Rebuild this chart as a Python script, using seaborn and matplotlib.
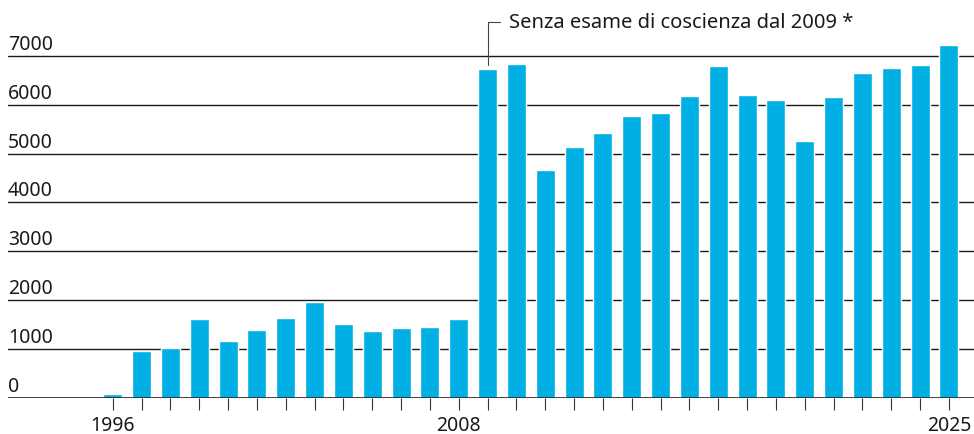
import matplotlib
matplotlib.use("Agg")
import matplotlib.pyplot as plt
import matplotlib.transforms as mtransforms
import seaborn as sns

# ========== DATA ==========
years = [str(y) for y in range(1996, 2026)]
values = [80, 960, 1020, 1615, 1165, 1390, 1635, 1965, 1515, 1370,
          1430, 1450, 1615, 6730, 6830, 4665, 5135, 5420, 5765, 5830,
          6175, 6790, 6195, 6095, 5255, 6155, 6645, 6750, 6810, 7220]
shown_years = ["1996", "2008", "2025"]
y_ticks = [0, 1000, 2000, 3000, 4000, 5000, 6000, 7000]
note_text = "Senza esame di coscienza dal 2009 *"
note_year = "2009"

BAR_COLOR = "#00afe4"
INK = "#1a1a1a"

sns.set_style("white")
plt.rcParams["font.family"] = ["Noto Sans", "DejaVu Sans"]

fig = plt.figure(figsize=(9.74, 4.35), dpi=100)
ax = fig.add_axes([8 / 974, 36 / 435, 966 / 974, 399 / 435])

sns.barplot(x=years, y=values, color=BAR_COLOR, saturation=1, width=0.66, ax=ax, zorder=2)

ax.set_xlim(-3.63, 29.87)
ax.set_ylim(0, 8160)
for s in ax.spines.values():
    s.set_visible(False)

# horizontal grid lines behind bars
ax.set_axisbelow(True)
ax.set_yticks(y_ticks)
ax.yaxis.grid(True, color=INK, linewidth=1.0)
ax.axhline(0, color=INK, linewidth=1.1, zorder=3)

# y labels sit left-aligned just above each grid line
ax.tick_params(axis="y", length=0, pad=0, labelsize=14, labelcolor=INK)
offset = mtransforms.ScaledTranslation(0, 7 / 100, fig.dpi_scale_trans)
for lab in ax.get_yticklabels():
    lab.set_horizontalalignment("left")
    lab.set_verticalalignment("baseline")
    lab.set_transform(lab.get_transform() + offset)

# x ticks: every year, label only a few
ax.set_xticks(range(len(years)))
ax.set_xticklabels([y if y in shown_years else "" for y in years])
ax.tick_params(axis="x", direction="out", length=8.5, width=0.8, color="#333333",
               pad=4, labelsize=14, labelcolor=INK, bottom=True)
ax.set_xlabel("")
ax.set_ylabel("")

# annotation for 2009
i09 = years.index(note_year)
ax.annotate(note_text, xy=(i09, values[i09]), xycoords="data",
            xytext=(21.5, 47), textcoords="offset pixels",
            ha="left", va="center", fontsize=14.5, color=INK,
            arrowprops=dict(arrowstyle="-", color="#444444", linewidth=0.8,
                            connectionstyle="angle,angleA=0,angleB=90,rad=0",
                            relpos=(0, 0.5), patchA=None, shrinkA=6.5, shrinkB=3))

plt.savefig("out.png", dpi=100)
